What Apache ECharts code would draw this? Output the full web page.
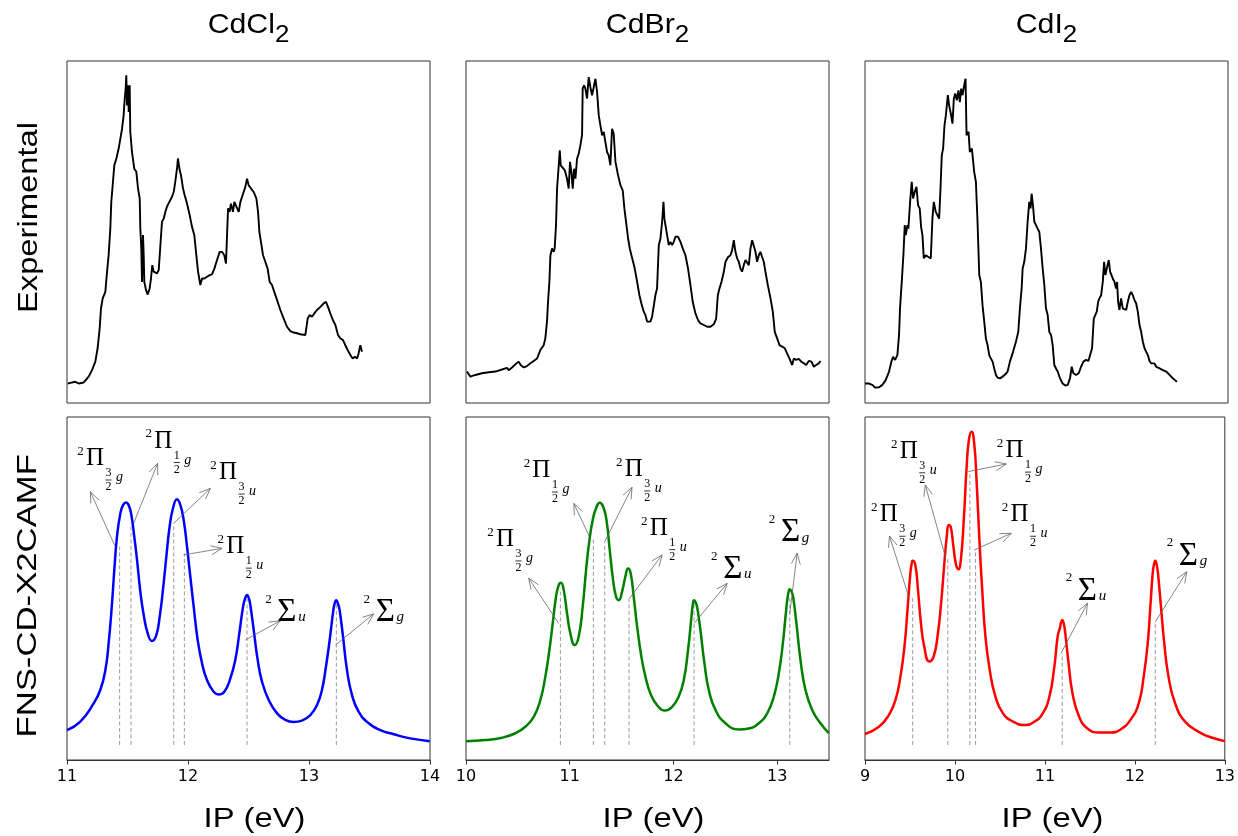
<!DOCTYPE html>
<html>
<head>
<meta charset="utf-8">
<script src="https://cdn.jsdelivr.net/npm/echarts@6.0.0/dist/echarts.min.js"></script>
<style>
html,body{margin:0;padding:0;background:#fff;}
#c{width:1238px;height:836px;}
</style>
</head>
<body>
<div id="c"></div>
<script>
// ---------------- text ----------------
const compounds = ['CdCl', 'CdBr', 'CdI'];
const compoundSub = '2';
const rowTitles = ['Experimental', 'FNS-CD-X2CAMF'];
const axisTitle = 'IP (eV)';

// ---------------- axes ----------------
const xMins = [11, 10, 9];
const xMaxs = [14, 13.5, 13];
const ticksCl = [11, 12, 13, 14];
const ticksBr = [10, 11, 12, 13];
const ticksI = [9, 10, 11, 12, 13];

// ---------------- experimental spectra [IP eV, relative intensity] ----------------
const expCl = [[11.006,0.057],[11.028,0.059],[11.069,0.062],[11.096,0.057],[11.138,0.060],[11.179,0.077],[11.207,0.096],[11.234,0.121],[11.253,0.160],[11.270,0.218],[11.281,0.277],[11.295,0.306],[11.317,0.325],[11.331,0.384],[11.344,0.432],[11.358,0.510],[11.366,0.588],[11.380,0.647],[11.391,0.695],[11.408,0.715],[11.427,0.744],[11.441,0.773],[11.455,0.802],[11.468,0.841],[11.477,0.890],[11.485,0.919],[11.490,0.958],[11.496,0.870],[11.504,0.929],[11.510,0.851],[11.518,0.929],[11.523,0.793],[11.537,0.734],[11.556,0.685],[11.573,0.676],[11.587,0.627],[11.601,0.598],[11.606,0.510],[11.614,0.452],[11.620,0.354],[11.628,0.491],[11.634,0.432],[11.639,0.354],[11.653,0.330],[11.667,0.317],[11.683,0.335],[11.694,0.364],[11.705,0.403],[11.716,0.384],[11.730,0.389],[11.744,0.379],[11.758,0.389],[11.771,0.384],[11.785,0.530],[11.799,0.539],[11.813,0.559],[11.826,0.574],[11.846,0.588],[11.868,0.603],[11.882,0.617],[11.895,0.647],[11.909,0.685],[11.917,0.715],[11.931,0.681],[11.942,0.666],[11.959,0.627],[11.972,0.608],[11.992,0.583],[12.014,0.549],[12.033,0.515],[12.052,0.491],[12.069,0.432],[12.083,0.384],[12.102,0.345],[12.116,0.364],[12.135,0.364],[12.157,0.369],[12.179,0.374],[12.198,0.376],[12.218,0.393],[12.240,0.418],[12.262,0.442],[12.281,0.442],[12.300,0.432],[12.314,0.408],[12.331,0.569],[12.344,0.559],[12.355,0.583],[12.372,0.559],[12.383,0.588],[12.399,0.588],[12.419,0.559],[12.433,0.588],[12.446,0.588],[12.460,0.617],[12.474,0.632],[12.488,0.656],[12.501,0.637],[12.521,0.627],[12.543,0.617],[12.565,0.598],[12.579,0.559],[12.590,0.500],[12.603,0.471],[12.620,0.432],[12.639,0.413],[12.658,0.393],[12.675,0.354],[12.694,0.345],[12.713,0.325],[12.736,0.301],[12.763,0.272],[12.791,0.247],[12.818,0.223],[12.846,0.210],[12.873,0.206],[12.901,0.204],[12.928,0.201],[12.970,0.199],[12.989,0.247],[13.006,0.257],[13.025,0.252],[13.044,0.262],[13.066,0.272],[13.094,0.281],[13.121,0.291],[13.140,0.296],[13.157,0.281],[13.176,0.262],[13.198,0.242],[13.218,0.228],[13.240,0.199],[13.259,0.189],[13.281,0.184],[13.300,0.169],[13.320,0.155],[13.342,0.140],[13.361,0.130],[13.380,0.135],[13.397,0.130],[13.410,0.145],[13.424,0.169],[13.438,0.150]];

const expBr = [[10.010,0.092],[10.042,0.077],[10.090,0.082],[10.154,0.087],[10.219,0.090],[10.283,0.092],[10.347,0.098],[10.395,0.103],[10.412,0.096],[10.444,0.104],[10.476,0.113],[10.508,0.121],[10.527,0.111],[10.556,0.104],[10.588,0.108],[10.621,0.116],[10.653,0.123],[10.685,0.130],[10.717,0.155],[10.749,0.169],[10.765,0.189],[10.781,0.238],[10.791,0.296],[10.804,0.354],[10.814,0.432],[10.830,0.452],[10.846,0.442],[10.855,0.452],[10.868,0.520],[10.878,0.627],[10.894,0.695],[10.904,0.739],[10.913,0.695],[10.932,0.690],[10.952,0.681],[10.974,0.656],[10.990,0.627],[11.003,0.705],[11.016,0.676],[11.029,0.627],[11.042,0.685],[11.055,0.656],[11.071,0.715],[11.087,0.729],[11.103,0.754],[11.119,0.783],[11.125,0.919],[11.138,0.929],[11.151,0.919],[11.167,0.890],[11.183,0.953],[11.199,0.924],[11.215,0.900],[11.232,0.924],[11.248,0.948],[11.264,0.909],[11.280,0.841],[11.296,0.812],[11.312,0.783],[11.328,0.793],[11.344,0.763],[11.360,0.734],[11.376,0.724],[11.392,0.695],[11.408,0.802],[11.424,0.788],[11.441,0.705],[11.466,0.666],[11.489,0.637],[11.511,0.622],[11.527,0.569],[11.543,0.530],[11.563,0.481],[11.579,0.452],[11.595,0.432],[11.611,0.413],[11.627,0.393],[11.650,0.354],[11.672,0.315],[11.691,0.291],[11.714,0.267],[11.730,0.257],[11.746,0.238],[11.762,0.242],[11.778,0.238],[11.794,0.252],[11.810,0.247],[11.826,0.315],[11.842,0.335],[11.859,0.462],[11.875,0.481],[11.891,0.530],[11.904,0.588],[11.913,0.539],[11.923,0.520],[11.939,0.491],[11.955,0.462],[11.971,0.471],[11.987,0.462],[12.003,0.471],[12.019,0.486],[12.045,0.486],[12.068,0.471],[12.090,0.452],[12.116,0.432],[12.141,0.393],[12.164,0.345],[12.186,0.296],[12.212,0.262],[12.238,0.242],[12.260,0.233],[12.293,0.228],[12.325,0.223],[12.357,0.223],[12.389,0.230],[12.412,0.247],[12.428,0.315],[12.444,0.335],[12.463,0.354],[12.486,0.384],[12.502,0.413],[12.527,0.427],[12.550,0.432],[12.566,0.447],[12.582,0.476],[12.598,0.442],[12.614,0.423],[12.630,0.413],[12.646,0.393],[12.662,0.384],[12.678,0.403],[12.695,0.418],[12.711,0.413],[12.727,0.403],[12.743,0.452],[12.759,0.476],[12.775,0.471],[12.791,0.442],[12.807,0.413],[12.823,0.432],[12.839,0.442],[12.855,0.427],[12.871,0.413],[12.887,0.384],[12.910,0.345],[12.936,0.306],[12.958,0.267],[12.977,0.208],[13.000,0.189],[13.023,0.169],[13.048,0.165],[13.074,0.160],[13.096,0.145],[13.119,0.130],[13.145,0.111],[13.161,0.130],[13.183,0.126],[13.209,0.129],[13.232,0.121],[13.257,0.116],[13.280,0.111],[13.305,0.123],[13.331,0.121],[13.354,0.106],[13.376,0.111],[13.402,0.116],[13.418,0.123]];

const expI = [[9.000,0.057],[9.044,0.057],[9.081,0.053],[9.110,0.045],[9.155,0.046],[9.191,0.053],[9.228,0.067],[9.265,0.092],[9.291,0.121],[9.309,0.135],[9.331,0.126],[9.357,0.140],[9.375,0.199],[9.386,0.277],[9.405,0.354],[9.423,0.432],[9.438,0.520],[9.449,0.491],[9.467,0.520],[9.478,0.510],[9.497,0.588],[9.515,0.647],[9.530,0.598],[9.548,0.617],[9.567,0.632],[9.585,0.578],[9.603,0.569],[9.618,0.515],[9.633,0.491],[9.648,0.423],[9.670,0.432],[9.699,0.427],[9.725,0.423],[9.743,0.539],[9.758,0.588],[9.780,0.559],[9.799,0.564],[9.817,0.539],[9.832,0.627],[9.846,0.724],[9.861,0.744],[9.876,0.812],[9.891,0.841],[9.913,0.900],[9.927,0.870],[9.946,0.846],[9.964,0.817],[9.979,0.890],[9.994,0.905],[10.012,0.885],[10.030,0.914],[10.045,0.880],[10.060,0.919],[10.075,0.900],[10.093,0.929],[10.108,0.948],[10.119,0.783],[10.141,0.793],[10.155,0.734],[10.178,0.744],[10.203,0.676],[10.222,0.647],[10.240,0.530],[10.259,0.374],[10.277,0.354],[10.295,0.286],[10.314,0.238],[10.332,0.189],[10.351,0.169],[10.369,0.140],[10.387,0.130],[10.406,0.121],[10.424,0.101],[10.443,0.082],[10.461,0.074],[10.487,0.072],[10.516,0.077],[10.546,0.084],[10.571,0.092],[10.597,0.121],[10.626,0.145],[10.663,0.179],[10.689,0.208],[10.707,0.277],[10.726,0.335],[10.737,0.393],[10.755,0.413],[10.774,0.452],[10.792,0.530],[10.810,0.588],[10.825,0.569],[10.836,0.612],[10.851,0.578],[10.866,0.530],[10.884,0.535],[10.902,0.510],[10.921,0.500],[10.939,0.452],[10.958,0.393],[10.976,0.345],[10.994,0.277],[11.013,0.257],[11.031,0.208],[11.050,0.199],[11.068,0.169],[11.086,0.111],[11.105,0.101],[11.123,0.092],[11.149,0.072],[11.178,0.057],[11.207,0.051],[11.234,0.053],[11.259,0.072],[11.278,0.106],[11.296,0.087],[11.326,0.082],[11.355,0.087],[11.381,0.106],[11.407,0.121],[11.436,0.126],[11.462,0.123],[11.484,0.126],[11.502,0.160],[11.521,0.247],[11.539,0.252],[11.554,0.267],[11.569,0.296],[11.583,0.306],[11.602,0.315],[11.620,0.354],[11.635,0.413],[11.649,0.374],[11.664,0.393],[11.686,0.418],[11.701,0.384],[11.716,0.374],[11.730,0.364],[11.749,0.354],[11.767,0.335],[11.778,0.354],[11.789,0.296],[11.804,0.272],[11.822,0.306],[11.841,0.276],[11.859,0.281],[11.878,0.272],[11.896,0.296],[11.914,0.315],[11.933,0.325],[11.951,0.315],[11.970,0.301],[11.988,0.291],[12.006,0.267],[12.025,0.228],[12.043,0.208],[12.062,0.179],[12.080,0.160],[12.098,0.150],[12.117,0.140],[12.135,0.123],[12.154,0.116],[12.172,0.121],[12.190,0.116],[12.209,0.106],[12.246,0.101],[12.282,0.096],[12.319,0.092],[12.356,0.082],[12.393,0.072],[12.437,0.062]];

// ---------------- FNS-CD-X2CAMF simulated spectra ----------------
const simCl = [[11.000,0.087],[11.110,0.112],[11.220,0.165],[11.275,0.204],[11.317,0.262],[11.344,0.340],[11.372,0.457],[11.391,0.554],[11.413,0.651],[11.441,0.719],[11.463,0.743],[11.488,0.751],[11.510,0.743],[11.532,0.714],[11.556,0.651],[11.579,0.583],[11.606,0.491],[11.634,0.423],[11.667,0.369],[11.702,0.347],[11.738,0.364],[11.766,0.418],[11.793,0.496],[11.821,0.593],[11.848,0.680],[11.876,0.734],[11.909,0.760],[11.937,0.743],[11.964,0.700],[11.992,0.622],[12.019,0.535],[12.047,0.447],[12.080,0.350],[12.116,0.282],[12.157,0.233],[12.212,0.199],[12.253,0.191],[12.300,0.199],[12.350,0.238],[12.391,0.292],[12.424,0.369],[12.455,0.447],[12.472,0.471],[12.488,0.481],[12.503,0.471],[12.515,0.452],[12.543,0.379],[12.576,0.292],[12.612,0.228],[12.667,0.175],[12.736,0.136],[12.804,0.117],[12.873,0.111],[12.942,0.115],[13.011,0.131],[13.066,0.160],[13.107,0.204],[13.140,0.272],[13.171,0.350],[13.198,0.428],[13.211,0.455],[13.226,0.466],[13.240,0.455],[13.253,0.437],[13.281,0.360],[13.314,0.262],[13.355,0.190],[13.410,0.141],[13.493,0.107],[13.590,0.087],[13.700,0.075],[13.837,0.063],[13.997,0.055]];

const simBr = [[10.000,0.055],[10.186,0.058],[10.347,0.065],[10.476,0.078],[10.572,0.097],[10.653,0.126],[10.717,0.175],[10.765,0.243],[10.804,0.321],[10.836,0.398],[10.868,0.476],[10.894,0.510],[10.916,0.517],[10.942,0.496],[10.974,0.428],[11.006,0.369],[11.048,0.335],[11.087,0.360],[11.125,0.447],[11.158,0.554],[11.190,0.641],[11.222,0.700],[11.254,0.734],[11.289,0.750],[11.322,0.739],[11.354,0.700],[11.386,0.612],[11.418,0.525],[11.447,0.476],[11.473,0.466],[11.505,0.491],[11.537,0.535],[11.563,0.558],[11.588,0.544],[11.617,0.476],[11.650,0.389],[11.691,0.301],[11.730,0.243],[11.778,0.194],[11.842,0.160],[11.916,0.144],[11.987,0.155],[12.051,0.185],[12.100,0.233],[12.141,0.321],[12.174,0.418],[12.186,0.452],[12.199,0.466],[12.212,0.461],[12.228,0.447],[12.260,0.379],[12.299,0.282],[12.341,0.204],[12.405,0.146],[12.502,0.107],[12.630,0.089],[12.727,0.092],[12.823,0.107],[12.904,0.136],[12.968,0.185],[13.016,0.253],[13.055,0.340],[13.087,0.437],[13.105,0.482],[13.122,0.498],[13.138,0.492],[13.154,0.476],[13.186,0.398],[13.225,0.292],[13.273,0.204],[13.338,0.146],[13.418,0.107],[13.498,0.078]];

const simI = [[9.000,0.076],[9.155,0.097],[9.265,0.131],[9.339,0.175],[9.394,0.243],[9.442,0.340],[9.475,0.447],[9.504,0.544],[9.517,0.570],[9.530,0.581],[9.559,0.569],[9.589,0.496],[9.622,0.398],[9.659,0.330],[9.714,0.287],[9.762,0.301],[9.806,0.360],[9.846,0.457],[9.879,0.564],[9.909,0.651],[9.931,0.685],[9.953,0.680],[9.983,0.622],[10.012,0.569],[10.038,0.556],[10.067,0.588],[10.100,0.709],[10.130,0.855],[10.155,0.933],[10.185,0.957],[10.214,0.923],[10.240,0.816],[10.270,0.651],[10.303,0.496],[10.339,0.360],[10.387,0.262],[10.450,0.185],[10.534,0.136],[10.645,0.112],[10.774,0.102],[10.884,0.112],[10.976,0.136],[11.050,0.185],[11.105,0.272],[11.142,0.360],[11.171,0.389],[11.180,0.402],[11.193,0.408],[11.207,0.400],[11.222,0.379],[11.259,0.292],[11.307,0.194],[11.381,0.126],[11.473,0.092],[11.602,0.080],[11.730,0.080],[11.841,0.089],[11.951,0.117],[12.043,0.165],[12.098,0.243],[12.143,0.340],[12.172,0.447],[12.198,0.544],[12.212,0.570],[12.227,0.581],[12.242,0.570],[12.257,0.544],[12.290,0.447],[12.327,0.340],[12.374,0.243],[12.448,0.165],[12.558,0.112],[12.724,0.080],[12.871,0.064],[13.000,0.055]];

// ---------------- state sticks (IP, stick top) ----------------
const stickBase = 0.044;
const stickClX = [11.435, 11.529, 11.882, 11.970, 12.488, 13.226];
const stickClTop = [0.622, 0.690, 0.690, 0.603, 0.470, 0.460];
const stickBrX = [10.910, 11.228, 11.338, 11.572, 12.199, 13.122];
const stickBrTop = [0.490, 0.646, 0.637, 0.471, 0.455, 0.480];
const stickIX = [9.530, 9.920, 10.166, 10.229, 11.193, 12.227];
const stickITop = [0.476, 0.588, 0.841, 0.612, 0.311, 0.403];

// ---------------- state labels ----------------
const termCl = ['Π', 'Π', 'Π', 'Π', 'Σ', 'Σ'];
const omegaCl = ['3', '1', '3', '1', '', ''];
const parityCl = ['g', 'g', 'u', 'u', 'u', 'g'];
const termBr = ['Π', 'Π', 'Π', 'Π', 'Σ', 'Σ'];
const omegaBr = ['3', '1', '3', '1', '', ''];
const parityBr = ['g', 'g', 'u', 'u', 'u', 'g'];
const termI = ['Π', 'Π', 'Π', 'Π', 'Σ', 'Σ'];
const omegaI = ['3', '3', '1', '1', '', ''];
const parityI = ['g', 'u', 'g', 'u', 'u', 'g'];

// annotation anchors (data coords): label glyph centre
const labelPosCl = [[11.231,0.879],[11.796,0.930],[12.331,0.838],[12.391,0.622],[12.818,0.431],[13.631,0.431]];
const labelPosBr = [[10.376,0.643],[10.727,0.844],[11.617,0.847],[11.859,0.676],[12.572,0.556],[13.129,0.663]];
const labelPosI = [[9.265,0.715],[9.486,0.900],[10.663,0.902],[10.718,0.715],[11.473,0.493],[12.595,0.595]];
// arrows (data coords): [from x, from y, to x, to y]
const arrowCl = [[11.399,0.622,11.193,0.782],[11.551,0.690,11.749,0.865],[11.882,0.690,12.185,0.792],[11.964,0.598,12.281,0.617],[12.474,0.350,12.763,0.406],[13.218,0.335,13.534,0.426]];
const arrowBr = [[10.894,0.398,10.605,0.530],[11.199,0.646,11.039,0.748],[11.338,0.637,11.601,0.795],[11.576,0.471,11.891,0.598],[12.199,0.398,12.518,0.515],[13.122,0.428,13.193,0.603]];
const arrowI = [[9.486,0.476,9.272,0.653],[9.898,0.588,9.670,0.802],[10.148,0.841,10.571,0.863],[10.214,0.612,10.626,0.661],[11.178,0.311,11.473,0.457],[12.227,0.403,12.577,0.549]];

// ---------------- build ----------------
const cols = [
  {ticks: ticksCl, exp: expCl, sim: simCl, color: '#0000ff', sx: stickClX, st: stickClTop, term: termCl, omega: omegaCl, parity: parityCl, lab: labelPosCl, arr: arrowCl},
  {ticks: ticksBr, exp: expBr, sim: simBr, color: '#008000', sx: stickBrX, st: stickBrTop, term: termBr, omega: omegaBr, parity: parityBr, lab: labelPosBr, arr: arrowBr},
  {ticks: ticksI, exp: expI, sim: simI, color: '#ff0000', sx: stickIX, st: stickITop, term: termI, omega: omegaI, parity: parityI, lab: labelPosI, arr: arrowI}
];

const gridLefts = [67, 466, 865];
const gridW = 363;
const topRow = {top: 61, height: 342};
const botRow = {top: 417, height: 343};
const frame = '#333';

const grids = [], xAxes = [], yAxes = [], series = [];
const SERIF = '"Liberation Serif","DejaVu Serif",serif';

function txt(t, x, y, font) {
  return {type: 'text', x: x, y: y, silent: true,
    style: {text: t, fill: '#000', font: font, align: 'center', verticalAlign: 'middle', textAlign: 'center', textVerticalAlign: 'middle'}};
}

function stickRender(params, api) {
  const a = api.coord([api.value(0), stickBase]);
  const b = api.coord([api.value(0), api.value(1)]);
  return {type: 'line', shape: {x1: a[0], y1: a[1], x2: b[0], y2: b[1]},
    style: {stroke: '#9a9a9a', lineWidth: 1, lineDash: [4, 2.5]}};
}
function arrowRender(params, api) {
  const a = api.coord([api.value(0), api.value(1)]);
  const b = api.coord([api.value(2), api.value(3)]);
  const ang = Math.atan2(b[1] - a[1], b[0] - a[0]);
  const L = 11, W = 4.5;
  const c = Math.cos(ang), s = Math.sin(ang);
  const p1 = [b[0] - L * c + W * s, b[1] - L * s - W * c];
  const p2 = [b[0] - L * c - W * s, b[1] - L * s + W * c];
  return {type: 'group', children: [
    {type: 'line', shape: {x1: a[0], y1: a[1], x2: b[0], y2: b[1]}, style: {stroke: '#666', lineWidth: 0.8}},
    {type: 'polyline', shape: {points: [p1, b, p2]}, style: {stroke: '#666', lineWidth: 0.8, fill: 'none'}}
  ]};
}
function labelRenderFor(col) {
  return function (params, api) {
    const p = api.coord([api.value(0), api.value(1)]);
    const k = params.dataIndex;
    const term = col.term[k], om = col.omega[k], par = col.parity[k];
    const ch = [];
    if (term === 'Π') {
      ch.push(txt('2', p[0] - 14.5, p[1] - 7, '13px ' + SERIF));
      ch.push(txt('Π', p[0], p[1], '25px ' + SERIF));
      ch.push(txt(om, p[0] + 13.5, p[1] + 14.5, '12px ' + SERIF));
      ch.push({type: 'line', shape: {x1: p[0] + 10.5, y1: p[1] + 21.5, x2: p[0] + 16.5, y2: p[1] + 21.5}, style: {stroke: '#000', lineWidth: 0.8}});
      ch.push(txt('2', p[0] + 13.5, p[1] + 28.5, '12px ' + SERIF));
      ch.push(txt(par, p[0] + 24.5, p[1] + 19, 'italic 14px ' + SERIF));
    } else {
      ch.push(txt('2', p[0] - 18.5, p[1] - 13, '13px ' + SERIF));
      ch.push(txt('Σ', p[0], p[1], '33px ' + SERIF));
      ch.push(txt(par, p[0] + 15, p[1] + 5, 'italic 15px ' + SERIF));
    }
    return {type: 'group', children: ch};
  };
}

cols.forEach(function (col, i) {
  grids.push({left: gridLefts[i], top: topRow.top, width: gridW, height: topRow.height, show: true, borderColor: frame, borderWidth: 1, backgroundColor: 'transparent'});
  xAxes.push({type: 'value', gridIndex: i, min: xMins[i], max: xMaxs[i], show: true,
    axisLine: {show: false}, axisTick: {show: false}, axisLabel: {show: false}, splitLine: {show: false}});
  yAxes.push({type: 'value', gridIndex: i, min: 0, max: 1, show: false, splitLine: {show: false}});
  series.push({type: 'line', xAxisIndex: i, yAxisIndex: i, data: col.exp, showSymbol: false, silent: true,
    lineStyle: {color: '#000', width: 1.9}, z: 2});
});
cols.forEach(function (col, i) {
  const gi = 3 + i;
  grids.push({left: gridLefts[i], top: botRow.top, width: gridW, height: botRow.height, show: true, borderColor: frame, borderWidth: 1, backgroundColor: 'transparent'});
  xAxes.push({type: 'value', gridIndex: gi, min: xMins[i], max: xMaxs[i],
    axisLine: {show: true, lineStyle: {color: frame, width: 1}},
    axisTick: {show: true, inside: false, length: 4.5, customValues: col.ticks, lineStyle: {color: frame, width: 1}},
    axisLabel: {show: true, customValues: col.ticks, fontFamily: 'DejaVu Sans', fontSize: 16, color: '#000', margin: 9},
    splitLine: {show: false}});
  yAxes.push({type: 'value', gridIndex: gi, min: 0, max: 1, show: false, splitLine: {show: false}});
  series.push({type: 'custom', xAxisIndex: gi, yAxisIndex: gi, silent: true, z: 1,
    data: col.sx.map(function (x, k) { return [x, col.st[k]]; }), renderItem: stickRender});
  series.push({type: 'line', xAxisIndex: gi, yAxisIndex: gi, data: col.sim, showSymbol: false, silent: true,
    smooth: 0.5, lineStyle: {color: col.color, width: 2.5}, z: 2});
  series.push({type: 'custom', xAxisIndex: gi, yAxisIndex: gi, silent: true, z: 3,
    data: col.arr, renderItem: arrowRender});
  series.push({type: 'custom', xAxisIndex: gi, yAxisIndex: gi, silent: true, z: 4,
    data: col.lab, renderItem: labelRenderFor(col)});
});

const SANS = '"Liberation Sans", Arial, sans-serif';
const graphics = [];
cols.forEach(function (col, i) {
  const cx = gridLefts[i] + gridW / 2;
  graphics.push({type: 'text', x: cx, y: 25.3, scaleX: 1.08, silent: true,
    style: {text: compounds[i] + '{s|' + compoundSub + '}', fill: '#000', font: '28px ' + SANS,
      align: 'center', verticalAlign: 'middle', textAlign: 'center', textVerticalAlign: 'middle',
      rich: {s: {fontSize: 24, fontFamily: '"Liberation Sans", Arial, sans-serif', padding: [20, 0, 0, 0]}}}});
  graphics.push({type: 'text', x: cx + 6, y: 819, scaleX: 1.17, silent: true,
    style: {text: axisTitle, fill: '#000', font: '28px ' + SANS,
      align: 'center', verticalAlign: 'middle', textAlign: 'center', textVerticalAlign: 'middle'}});
});
graphics.push({type: 'text', x: 29.4, y: 217.5, rotation: Math.PI / 2, scaleX: 1.17, silent: true,
  style: {text: rowTitles[0], fill: '#000', font: '28px ' + SANS,
    align: 'center', verticalAlign: 'middle', textAlign: 'center', textVerticalAlign: 'middle'}});
graphics.push({type: 'text', x: 28.4, y: 595.8, rotation: Math.PI / 2, scaleX: 1.24, silent: true,
  style: {text: rowTitles[1], fill: '#000', font: '28px ' + SANS,
    align: 'center', verticalAlign: 'middle', textAlign: 'center', textVerticalAlign: 'middle'}});

const chart = echarts.init(document.getElementById('c'), null, {renderer: 'canvas'});
chart.setOption({
  animation: false,
  backgroundColor: '#fff',
  grid: grids,
  xAxis: xAxes,
  yAxis: yAxes,
  series: series,
  graphic: {elements: graphics}
});
</script>
</body>
</html>
